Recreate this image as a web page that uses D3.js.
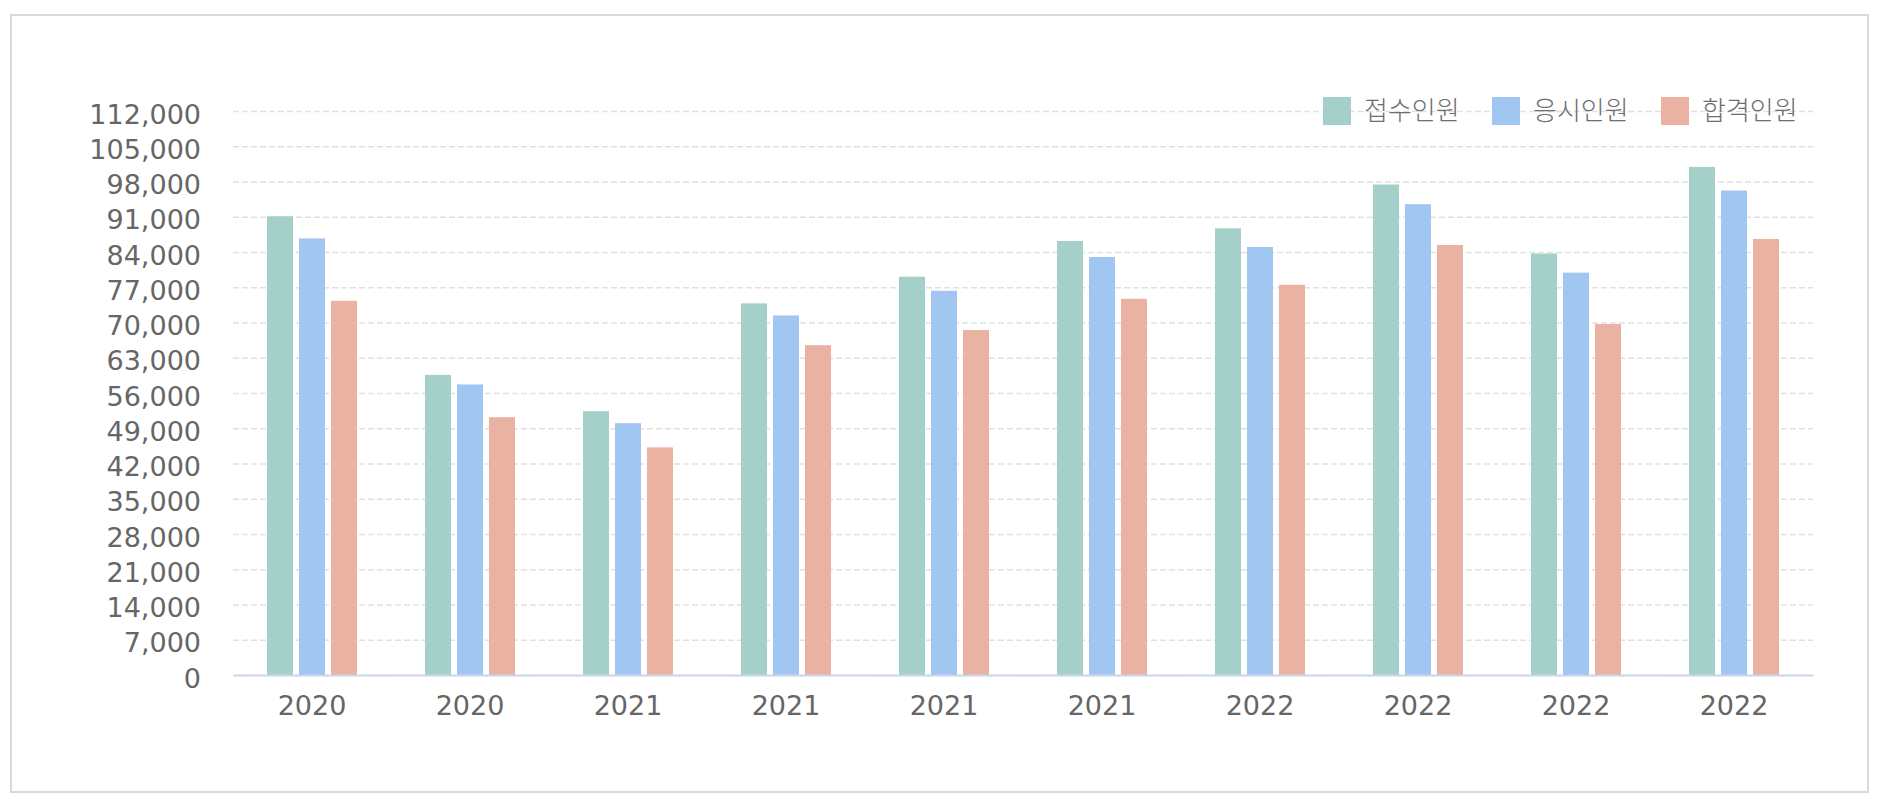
<!DOCTYPE html>
<html>
<head>
<meta charset="utf-8">
<script src="https://cdn.jsdelivr.net/npm/d3@7"></script>
<style>
  html, body { margin: 0; padding: 0; background: #ffffff; }
  svg { display: block; }
</style>
</head>
<body>
<svg id="chart" width="1886" height="810"></svg>
<script>
// ---- data ----
const categories = ["2020", "2020", "2021", "2021", "2021", "2021", "2022", "2022", "2022", "2022"];
const seriesNames = ["접수인원", "응시인원", "합격인원"];
const applicants = [91100, 59600, 52400, 73800, 79100, 86200, 88700, 97400, 83700, 100900];
const examinees  = [86700, 57700, 50000, 71400, 76300, 83000, 85000, 93500, 79900, 96200];
const passers    = [74300, 51200, 45200, 65500, 68500, 74700, 77500, 85400, 69700, 86600];
const yTicks = [0, 7000, 14000, 21000, 28000, 35000, 42000, 49000, 56000, 63000, 70000, 77000, 84000, 91000, 98000, 105000, 112000];
const colors = ["#a4d0c9", "#a2c6f2", "#e9b2a3"];

const seriesValues = [applicants, examinees, passers];

// ---- layout ----
const svg = d3.select("#chart");
const plot = { left: 233, right: 1813, top: 111, bottom: 675 };

// outer border
svg.append("rect")
  .attr("x", 11).attr("y", 15)
  .attr("width", 1857).attr("height", 777)
  .attr("fill", "#ffffff")
  .attr("stroke", "#d9d9d9")
  .attr("stroke-width", 2);

const x0 = d3.scaleBand()
  .domain(d3.range(categories.length))
  .range([plot.left, plot.right])
  .padding(0);

const x1 = d3.scaleBand()
  .domain(d3.range(seriesNames.length))
  .range([x0.bandwidth() / 2 - 48, x0.bandwidth() / 2 + 48])
  .paddingInner(0.1875)
  .paddingOuter(0.09375);

const y = d3.scaleLinear()
  .domain([0, 112000])
  .range([plot.bottom, plot.top]);

const fontLatin = "'DejaVu Sans', 'Noto Sans', sans-serif";

// gridlines
const grid = svg.append("g")
  .attr("transform", `translate(${plot.left},0)`)
  .call(d3.axisLeft(y).tickValues(yTicks).tickSize(-(plot.right - plot.left)).tickFormat(""));
grid.select(".domain").remove();
grid.selectAll(".tick line")
  .attr("stroke", "#e1e1e1")
  .attr("stroke-width", 1.5)
  .attr("stroke-dasharray", "6,3");

// y axis labels
const yAxis = svg.append("g")
  .attr("transform", `translate(${plot.left},0)`)
  .call(d3.axisLeft(y).tickValues(yTicks).tickSize(0).tickPadding(32).tickFormat(d3.format(",")));
yAxis.select(".domain").remove();
yAxis.selectAll(".tick text")
  .attr("fill", "#666666")
  .attr("dy", "0.45em")
  .style("font-family", fontLatin)
  .style("font-size", "27px");

// bars
const groups = svg.append("g").selectAll("g")
  .data(d3.range(categories.length))
  .join("g")
  .attr("transform", i => `translate(${x0(i)},0)`);

groups.selectAll("rect")
  .data(i => seriesValues.map((vals, s) => ({ s, v: vals[i] })))
  .join("rect")
  .attr("x", d => x1(d.s))
  .attr("width", x1.bandwidth())
  .attr("y", d => y(d.v))
  .attr("height", d => y(0) - y(d.v))
  .attr("fill", d => colors[d.s]);

// x axis
const xAxis = svg.append("g")
  .attr("transform", `translate(0,${plot.bottom})`)
  .call(d3.axisBottom(x0).tickSize(0).tickPadding(21).tickFormat(i => categories[i]));
xAxis.select(".domain")
  .attr("stroke", "#ccd6eb")
  .attr("stroke-width", 2);
xAxis.selectAll(".tick text")
  .attr("fill", "#666666")
  .style("font-family", fontLatin)
  .style("font-size", "27px");

// legend
const legend = svg.append("g").attr("transform", "translate(1323,97)");
const items = legend.selectAll("g")
  .data(seriesNames)
  .join("g")
  .attr("transform", (d, i) => `translate(${i * 169},0)`);
items.append("rect")
  .attr("width", 28).attr("height", 28)
  .attr("fill", (d, i) => colors[i]);
items.append("text")
  .attr("x", 41).attr("y", 14)
  .attr("dy", "0.36em")
  .attr("fill", "#6e6e6e")
  .style("font-family", "'Noto Sans CJK KR', sans-serif")
  .style("font-weight", "300")
  .style("font-size", "26px")
  .text(d => d);
</script>
</body>
</html>
